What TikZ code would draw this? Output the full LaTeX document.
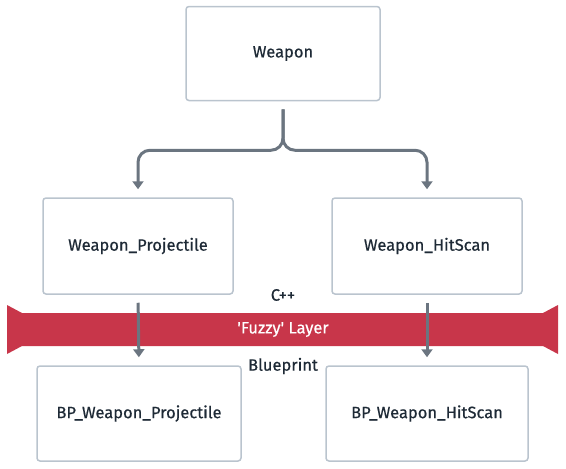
\documentclass[tikz,border=0pt]{standalone}
\usepackage{fontspec}
\setmainfont{Fira Sans}[FakeBold=0.5]
\usetikzlibrary{arrows.meta}
\definecolor{boxline}{HTML}{BAC4CE}
\definecolor{linkgrey}{HTML}{6B7580}
\definecolor{inktext}{HTML}{1E2A36}
\definecolor{fuzzyred}{HTML}{C8364A}
\begin{document}
\begin{tikzpicture}[x=1pt,y=-1pt,
  classbox/.style={draw=boxline, line width=1.5pt, rounded corners=3pt, fill=white,
    text=inktext, font=\fontsize{16.5}{18}\selectfont, inner sep=0pt},
  link/.style={draw=linkgrey, line width=3pt, -{Triangle[width=11pt,length=8pt]},
    shorten <=8pt, shorten >=8pt},
  lbl/.style={text=inktext, font=\fontsize{16.5}{18}\selectfont}]
\useasboundingbox (0,0) rectangle (566,469);
% classes
\node[classbox, minimum width=194pt, minimum height=94pt] (weapon) at (283,53.5) {Weapon};
\node[classbox, minimum width=190pt, minimum height=96pt] (proj) at (138,246) {Weapon\_Projectile};
\node[classbox, minimum width=190pt, minimum height=96pt] (hitscan) at (427,246) {Weapon\_HitScan};
\node[classbox, minimum width=204pt, minimum height=95pt] (bpproj) at (139,413.5) {BP\_Weapon\_Projectile};
\node[classbox, minimum width=202pt, minimum height=95pt] (bphitscan) at (427,413.5) {BP\_Weapon\_HitScan};
% the layer between
\fill[fuzzyred] (7,305) -- (22,313) -- (543,313) -- (558,305) -- (558,354)
  -- (543,346) -- (22,346) -- (7,354) -- cycle;
\node[text=white, font=\fontsize{16.5}{18}\selectfont] (fuzzy) at (283,329.5) {\textquotesingle Fuzzy\textquotesingle\ Layer};
\node[lbl] (cpp) at (283,295) {C++};
\node[lbl] (bp) at (283,366) {Blueprint};
% links
\foreach \a/\b in {proj/bpproj, hitscan/bphitscan}{
  \draw[link] (\a.south) -- (\b.north);
}
\foreach \b in {proj, hitscan}{
  \draw[link, rounded corners=12pt] (weapon.south) -- ++(0,49) -| (\b.north);
}
\end{tikzpicture}
\end{document}
